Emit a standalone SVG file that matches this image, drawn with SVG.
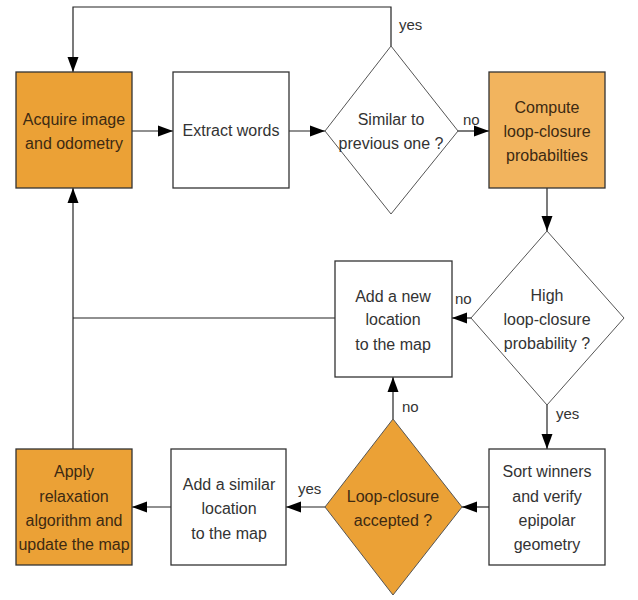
<svg xmlns="http://www.w3.org/2000/svg" width="638" height="600" viewBox="0 0 638 600">
<style>
.box{stroke:#333;stroke-width:1.3}
.dia{stroke:#555;stroke-width:1}
.w{fill:#fff}
.o1{fill:#EBA136}
.o2{fill:#F2B45E}
.t{font-family:"Liberation Sans",Arial,sans-serif;font-size:16px;fill:#333;text-anchor:middle}
.ot{fill:#3d2a12}
.lbl{font-family:"Liberation Sans",Arial,sans-serif;font-size:15px;fill:#333}
.c{fill:none;stroke:#222;stroke-width:1.2}
</style>
<defs>
<marker id="ah" markerUnits="userSpaceOnUse" markerWidth="16" markerHeight="12" refX="15" refY="6" orient="auto">
<path d="M0,0.5 L15,6 L0,11.5 z" fill="#000"/>
</marker>
</defs>
<rect width="638" height="600" fill="#fff"/>
<g id="connectors">
<path class="c" d="M132,131 H173" marker-end="url(#ah)"/>
<path class="c" d="M289,131 H325" marker-end="url(#ah)"/>
<path class="c" d="M458,131 H489" marker-end="url(#ah)"/>
<path class="c" d="M391,46 V7 H73 V72" marker-end="url(#ah)"/>
<path class="c" d="M547,188 V231" marker-end="url(#ah)"/>
<path class="c" d="M471,318 H452" marker-end="url(#ah)"/>
<path class="c" d="M335,318 H73"/>
<path class="c" d="M73,449 V188" marker-end="url(#ah)"/>
<path class="c" d="M547,405 V449" marker-end="url(#ah)"/>
<path class="c" d="M489,507 H462" marker-end="url(#ah)"/>
<path class="c" d="M325,507 H286" marker-end="url(#ah)"/>
<path class="c" d="M171,507 H132" marker-end="url(#ah)"/>
<path class="c" d="M393,419 V377" marker-end="url(#ah)"/>
<text class="lbl" x="399" y="30">yes</text>
<text class="lbl" x="463" y="125">no</text>
<text class="lbl" x="455" y="304">no</text>
<text class="lbl" x="402" y="412">no</text>
<text class="lbl" x="556" y="419">yes</text>
<text class="lbl" x="298" y="494">yes</text>
</g>
<g id="acquire">
<rect class="box o1" x="16" y="72" width="116" height="116"/>
<text class="t ot" x="74" y="125">Acquire image</text>
<text class="t ot" x="74" y="149">and odometry</text>
</g>
<g id="extract">
<rect class="box w" x="173" y="72" width="116" height="116"/>
<text class="t" x="231" y="136">Extract words</text>
</g>
<g id="similar">
<polygon class="dia w" points="391,46 458,131 391,214 325,131"/>
<text class="t" x="391" y="125">Similar to</text>
<text class="t" x="391" y="149">previous one ?</text>
</g>
<g id="compute">
<rect class="box o2" x="489" y="72" width="116" height="116"/>
<text class="t ot" x="547" y="113">Compute</text>
<text class="t ot" x="547" y="137">loop-closure</text>
<text class="t ot" x="547" y="161">probabilties</text>
</g>
<g id="high">
<polygon class="dia w" points="547,231 624,318 547,405 471,318"/>
<text class="t" x="547" y="301">High</text>
<text class="t" x="547" y="325">loop-closure</text>
<text class="t" x="547" y="349">probability ?</text>
</g>
<g id="addnew">
<rect class="box w" x="335" y="261" width="117" height="116"/>
<text class="t" x="393" y="302">Add a new</text>
<text class="t" x="393" y="325">location</text>
<text class="t" x="393" y="350">to the map</text>
</g>
<g id="sort">
<rect class="box w" x="489" y="449" width="116" height="116"/>
<text class="t" x="547" y="477">Sort winners</text>
<text class="t" x="547" y="502">and verify</text>
<text class="t" x="547" y="526">epipolar</text>
<text class="t" x="547" y="550">geometry</text>
</g>
<g id="loopclosure">
<polygon class="dia o1" points="393,419 462,507 393,595 325,507"/>
<text class="t ot" x="393" y="502">Loop-closure</text>
<text class="t ot" x="393" y="526">accepted ?</text>
</g>
<g id="addsimilar">
<rect class="box w" x="171" y="449" width="115" height="116"/>
<text class="t" x="229" y="490">Add a similar</text>
<text class="t" x="229" y="514">location</text>
<text class="t" x="229" y="539">to the map</text>
</g>
<g id="apply">
<rect class="box o1" x="16" y="449" width="116" height="116"/>
<text class="t ot" x="74" y="477">Apply</text>
<text class="t ot" x="74" y="502">relaxation</text>
<text class="t ot" x="74" y="526">algorithm and</text>
<text class="t ot" x="74" y="550">update the map</text>
</g>
</svg>
